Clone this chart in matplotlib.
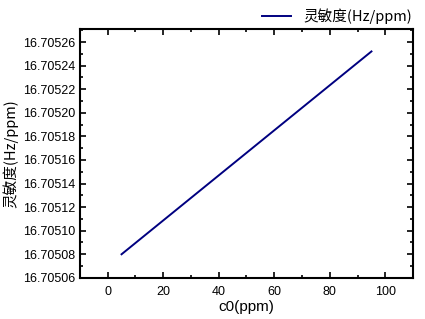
import numpy as np
import matplotlib
matplotlib.use('Agg')
import matplotlib.pyplot as plt
from matplotlib.ticker import MultipleLocator, FormatStrFormatter

# data
c0 = [5, 50, 95]
sens = [16.705080, 16.705166, 16.705252]
series_label = '灵敏度(Hz/ppm)'
x_label = 'c0(ppm)'

cjk = ['Noto Sans CJK SC', 'DejaVu Sans']
plt.rcParams['font.family'] = ['Liberation Sans', 'DejaVu Sans']

fig = plt.figure(figsize=(4.25, 3.19), dpi=100)
ax = fig.add_axes([0.188, 0.129, 0.784, 0.780])

line, = ax.plot(c0, sens, color='#000080', lw=1.4)

ax.set_xlim(-10, 110)
ax.set_ylim(16.70506, 16.705271)
ax.xaxis.set_major_locator(MultipleLocator(20))
ax.xaxis.set_minor_locator(MultipleLocator(10))
ax.yaxis.set_major_locator(MultipleLocator(0.00002))
ax.yaxis.set_minor_locator(MultipleLocator(0.00001))
ax.yaxis.set_major_formatter(FormatStrFormatter('%.5f'))

ax.tick_params(which='both', direction='in', top=True, right=True,
               labelsize=9, width=1.2)
ax.tick_params(which='major', length=4)
ax.tick_params(which='minor', length=2)
ax.tick_params(axis='x', pad=6)
for s in ax.spines.values():
    s.set_linewidth(1.5)

ax.set_xlabel(x_label, fontsize=11, labelpad=1)
ax.set_ylabel(series_label, fontsize=10.5, family=cjk, labelpad=3)

fig.legend([line], [series_label], loc='upper right',
           bbox_to_anchor=(1.0, 1.015), frameon=False,
           prop={'family': cjk, 'size': 10.5}, handlelength=2.0)

fig.savefig('out.png', dpi=100)
